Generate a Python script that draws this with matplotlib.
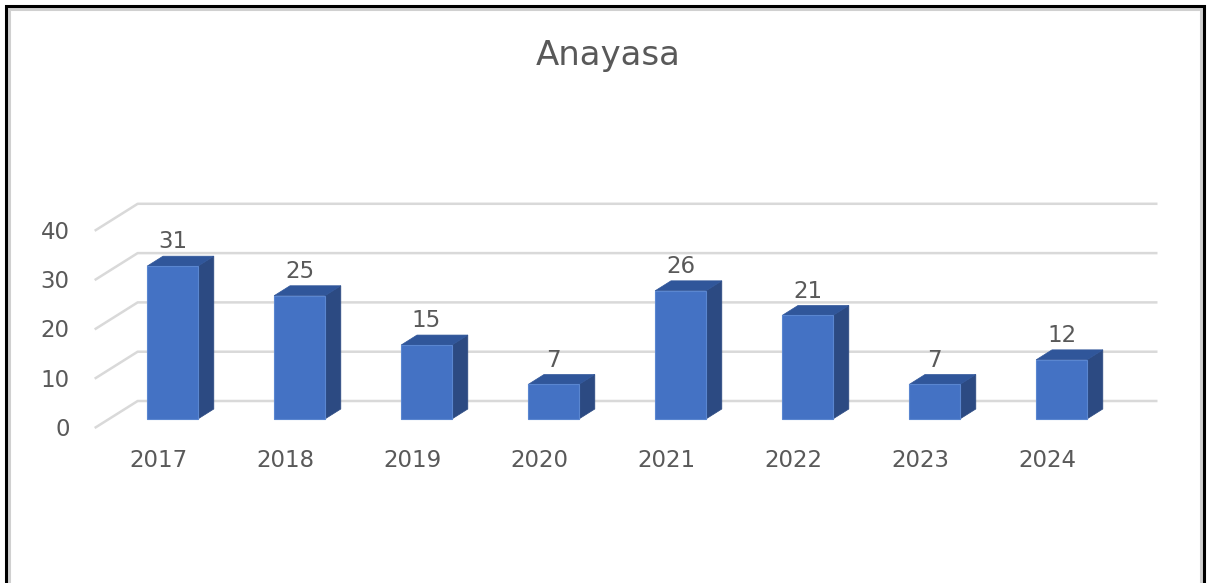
import matplotlib.pyplot as plt
from matplotlib.patches import Polygon, Rectangle
from matplotlib.lines import Line2D

years = ["2017", "2018", "2019", "2020", "2021", "2022", "2023", "2024"]
counts = [31, 25, 15, 7, 26, 21, 7, 12]
y_ticks = [0, 10, 20, 30, 40]
title = "Anayasa"

W, H = 1209, 583
X0_PX, STEP_PX = 172.5, 127.0   # first bar centre / bar spacing (front plane of the bars)
Y0_PX, UNIT_PX = 419.0, 4.93    # value 0 row (from top) / pixels per unit
XLIM, YLIM = (-1.0, 8.0), (-10.0, 50.0)

# depth of the floor in data units, bars stand at 1/3 of it
DX = 43 / STEP_PX
DY = 27 / UNIT_PX
BAR_W = 0.4
SX, SY = 0.37 * DX, 0.37 * DY

FRONT = "#4472C4"
SIDE = "#2C4A82"
TOP = "#30569A"
GRID = "#D9D9D9"
TEXT = "#595959"

plt.rcParams["font.family"] = ["DejaVu Sans"]

fig = plt.figure(figsize=(W / 100, H / 100), dpi=100)
ax = fig.add_axes([
    (X0_PX + XLIM[0] * STEP_PX) / W,
    (H - (Y0_PX - YLIM[0] * UNIT_PX)) / H,
    (XLIM[1] - XLIM[0]) * STEP_PX / W,
    (YLIM[1] - YLIM[0]) * UNIT_PX / H,
])
ax.set_xlim(*XLIM)
ax.set_ylim(*YLIM)
ax.axis("off")

# gridlines: short diagonal on the floor side, then along the back wall
x_front = -0.5 - DX / 3
x_back_l = -0.5 + 2 * DX / 3
x_back_r = len(years) - 0.47 + 2 * DX / 3
for v in y_ticks:
    ax.plot([x_front, x_back_l, x_back_r], [v - DY / 3, v + 2 * DY / 3, v + 2 * DY / 3],
            color=GRID, lw=1.8, solid_capstyle="butt", clip_on=False, zorder=1)
    ax.annotate(str(v), (x_front, v - DY / 3), xytext=(-18, -1), textcoords="offset points",
                ha="right", va="center", fontsize=16.5, color=TEXT)

for i, (year, v) in enumerate(zip(years, counts)):
    l, r = i - BAR_W / 2, i + BAR_W / 2
    ax.add_patch(Polygon([(r, 0), (r + SX, SY), (r + SX, v + SY), (r, v)],
                         closed=True, fc=SIDE, ec=SIDE, lw=0.5, zorder=3))
    ax.add_patch(Polygon([(l, v), (r, v), (r + SX, v + SY), (l + SX, v + SY)],
                         closed=True, fc=TOP, ec=TOP, lw=0.5, zorder=3))
    ax.add_patch(Rectangle((l, 0), BAR_W, v, fc=FRONT, ec="#5A86D0", lw=0.8, zorder=4))
    ax.annotate(str(v), (i, v + SY), xytext=(0, 2), textcoords="offset points",
                ha="center", va="bottom", fontsize=16.5, color=TEXT)
    ax.annotate(year, (i - DX / 3, -DY / 3), xytext=(0, -23.5), textcoords="offset points",
                ha="center", va="center", fontsize=16.5, color=TEXT)

fig.text(608.5 / W, 1 - 55.5 / H, title, ha="center", va="center", fontsize=24.5, color=TEXT)

# frame around the chart (open at the bottom)
for xs, ys, c, w in [
    ([8.5, 8.5, 1201, 1201], [583, 8.5, 8.5, 583], "#D0D0D0", 2.2),
    ([6, 6, 1203.5, 1203.5], [583, 6, 6, 583], "black", 2.2),
]:
    fig.add_artist(Line2D([x / W for x in xs], [1 - y / H for y in ys],
                          transform=fig.transFigure, color=c, lw=w, solid_joinstyle="miter"))

fig.savefig("out.png", dpi=100)
